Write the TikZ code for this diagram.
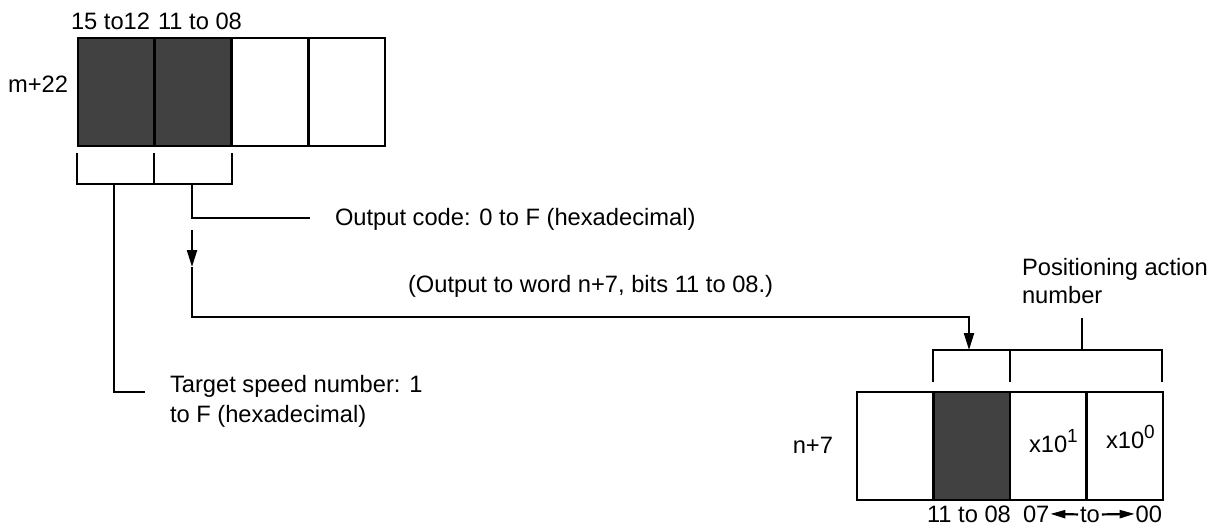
\documentclass[tikz,border=0pt]{standalone}
\usepackage{fontspec}
\setmainfont{Liberation Sans}
\usetikzlibrary{arrows.meta}
\definecolor{cellfill}{HTML}{414141}
\newcommand{\supdig}[1]{\raisebox{5pt}{\fontsize{9.5}{10}\selectfont #1}}
\begin{document}
\begin{tikzpicture}[x=0.5pt,y=-0.5pt,
  every node/.style={font=\fontsize{11.85}{14}\selectfont, inner sep=0pt, outer sep=0pt},
  topcell/.style={draw, line width=1.25pt, minimum width=38.375pt, minimum height=54pt},
  botcell/.style={draw, line width=1.25pt, minimum width=38.25pt, minimum height=54pt},
  dark/.style={fill=cellfill},
  wire/.style={line width=1.1pt},
  bigtip/.style={-{Triangle[length=8.5pt,width=5pt]}},
  smalltip/.style={-{Triangle[length=7.5pt,width=4pt]}}
]
\useasboundingbox (0,0) rectangle (1218,527);

% top register m+22
\node[topcell,dark] (a1) at (116.4,92) {};
\node[topcell,dark] (a2) at (193.1,92) {};
\node[topcell] (a3) at (269.9,92) {};
\node[topcell] (a4) at (346.6,92) {};
\node[anchor=base east] (m22) at (68,92) {m+22};
\node[anchor=base west] (b1512) at (71,29) {15 to12};
\node[anchor=base west] (b1108) at (158,29) {11 to 08};

% bracket under top register
\coordinate (tb1) at (77,153);
\coordinate (tb2) at (154,153);
\coordinate (tb3) at (232,153);
\coordinate (tbl) at (77,184);
\coordinate (tbm) at (154,184);
\coordinate (tbr) at (232,184);
\draw[wire] (tb1) -- (tbl) -- (tbr) -- (tb3);
\draw[wire] (tb2) -- (tbm);

% target speed stem
\coordinate (s1) at (114,184);
\coordinate (s2) at (114,392);
\coordinate (s3) at (145,392);
\draw[wire] (s1) -- (s2) -- (s3);
\node[anchor=base west] (tsn1) at (170,392) {Target speed number: 1};
\node[anchor=base west] (tsn2) at (170,422) {to F (hexadecimal)};

% output code stem
\coordinate (o1) at (192,184);
\coordinate (o2) at (192,218);
\coordinate (o3) at (310,218);
\draw[wire] (o1) -- (o2) -- (o3);
\node[anchor=base west] (oc) at (335,225) {Output code: 0 to F (hexadecimal)};

% arrow to n+7
\coordinate (ar0) at (192,230);
\coordinate (ar1) at (192,267);
\coordinate (ar2) at (192,317);
\coordinate (bt) at (969,350);
\draw[wire,bigtip] (ar0) -- (ar1);
\draw[wire,bigtip] (ar1) -- (ar2) -| (bt);
\node[anchor=base west] (outw) at (408,292) {(Output to word n+7, bits 11 to 08.)};

% bottom register n+7
\node[botcell] (c1) at (895.25,446) {};
\node[botcell,dark] (c2) at (971.75,446) {};
\node[botcell] (c3) at (1048.25,446) {};
\node[botcell] (c4) at (1124.75,446) {};
\node[anchor=base east] (n7) at (833,453) {n+7};
\node[anchor=base west] (x1) at (1029,452) {x10\supdig{1}};
\node[anchor=base west] (x0) at (1106,448) {x10\supdig{0}};

% bracket above bottom register
\coordinate (bb1) at (933,382);
\coordinate (bb2) at (1010,382);
\coordinate (bb3) at (1162,382);
\coordinate (bbl) at (933,350);
\coordinate (bbm) at (1010,350);
\coordinate (bbr) at (1162,350);
\coordinate (ps1) at (1082,350);
\coordinate (ps2) at (1082,318);
\draw[wire] (bb1) -- (bbl) -- (bbr) -- (bb3);
\draw[wire] (bb2) -- (bbm);
\draw[wire] (ps1) -- (ps2);
\node[anchor=base west] (pa1) at (1022,275) {Positioning action};
\node[anchor=base west] (pa2) at (1022,303) {number};

% bit labels under bottom register
\node[anchor=base west] (l1108) at (927,522) {11 to 08};
\node[anchor=base west] (l07) at (1023,522) {07};
\node[anchor=base west] (lto) at (1080,522) {to};
\node[anchor=base east] (l00) at (1162,522) {00};
\draw[wire,smalltip,shorten >=0.5pt,shorten <=1pt] (lto.west) -- (l07.east);
\draw[wire,smalltip,shorten >=0.5pt,shorten <=1pt] (lto.east) -- (l00.west);
\end{tikzpicture}
\end{document}
